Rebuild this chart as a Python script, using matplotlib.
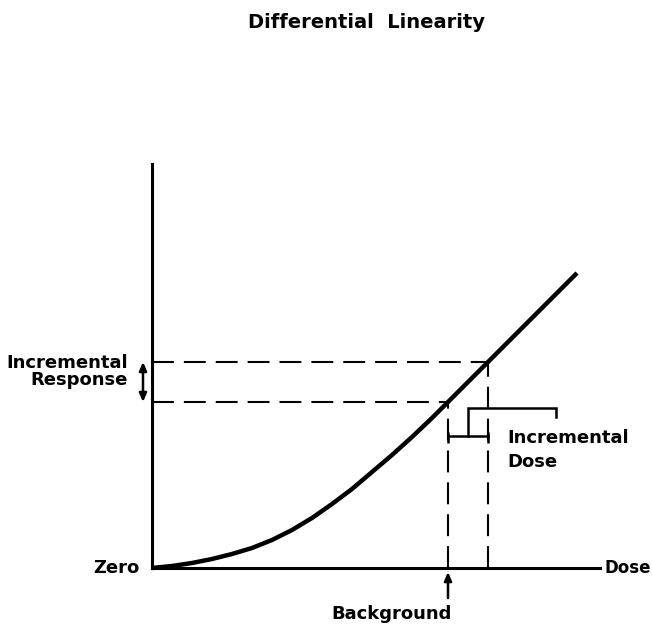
import matplotlib

matplotlib.use("Agg")
import matplotlib.pyplot as plt  # noqa: E402

# dose / response curve (arbitrary units, origin at "Zero")
dose = [0, 20, 40, 60, 80, 100, 120, 140, 160, 180, 200, 220, 240, 260, 280,
        296, 336, 425]
response = [0, 2, 5, 9, 14, 20, 28, 38, 50, 64, 79, 96, 113, 131, 150,
            166, 206, 295]

background_dose = 296
upper_dose = 336
background_response = 166
upper_response = 206

title = "Differential  Linearity"
resp_label = "Incremental\nResponse"
dose_label = ["Incremental", "Dose"]

INK = "black"
FONT = dict(family="DejaVu Sans", weight="bold", size=13, color=INK)

fig = plt.figure(figsize=(6.52, 6.24), dpi=100)
ax = fig.add_axes([0, 0, 1, 1])
ax.set_xlim(-152, 500)
ax.set_ylim(-56, 568)
ax.set_xticks([])
ax.set_yticks([])
for side in ("top", "right"):
    ax.spines[side].set_visible(False)
ax.spines["left"].set_position(("data", 0))
ax.spines["bottom"].set_position(("data", 0))
ax.spines["left"].set_bounds(0, 404)
ax.spines["bottom"].set_bounds(0, 448)
for side in ("left", "bottom"):
    ax.spines[side].set_linewidth(2.2)
    ax.spines[side].set_color(INK)

# response curve
ax.plot(dose, response, color=INK, lw=3.2, solid_capstyle="butt",
        solid_joinstyle="round", zorder=3)

# dashed guides
dash = (0, (10.5, 4.8))
ax.hlines([background_response, upper_response], 0, [background_dose, upper_dose],
          colors=INK, lw=1.5, linestyles=[dash])
ax.vlines([background_dose, upper_dose], 0, [background_response, upper_response],
          colors=INK, lw=1.5, linestyles=[dash])

# incremental dose bracket
bar_y = 132
tick_h = 7
mid = (background_dose + upper_dose) / 2
ax.plot([background_dose, upper_dose], [bar_y, bar_y], color=INK, lw=1.8)
ax.vlines([background_dose, upper_dose], bar_y - tick_h, bar_y + 4, colors=INK, lw=1.8)
ax.plot([mid, mid, 404, 404], [bar_y, 160, 160, 151], color=INK, lw=1.8,
        solid_joinstyle="miter")

# incremental response arrow
ax.annotate("", xy=(-9, upper_response), xytext=(-9, background_response),
            arrowprops=dict(arrowstyle="<|-|>,head_length=0.5,head_width=0.22",
                            color=INK, lw=1.8, shrinkA=0, shrinkB=0))

# background arrow
ax.annotate("", xy=(background_dose, -4), xytext=(background_dose, -30),
            arrowprops=dict(arrowstyle="-|>,head_length=0.5,head_width=0.22",
                            color=INK, lw=1.8, shrinkA=0, shrinkB=0))

# labels
fig.text(366 / 652, 1 - 28 / 624, title, ha="center", va="baseline",
         **{**FONT, "size": 14})
ax.text(-24, 183, resp_label, ha="right", va="baseline", multialignment="right",
        linespacing=0.95, **FONT)
ax.text(355, 125, dose_label[0], ha="left", va="baseline", **FONT)
ax.text(355, 101, dose_label[1], ha="left", va="baseline", **FONT)
ax.text(-12, -5, "Zero", ha="right", va="baseline", **FONT)
ax.text(452, -5, "Dose", ha="left", va="baseline", **{**FONT, "size": 12})
ax.text(300, -51, "Background", ha="right", va="baseline", **FONT)

fig.savefig("out.png", dpi=100)
